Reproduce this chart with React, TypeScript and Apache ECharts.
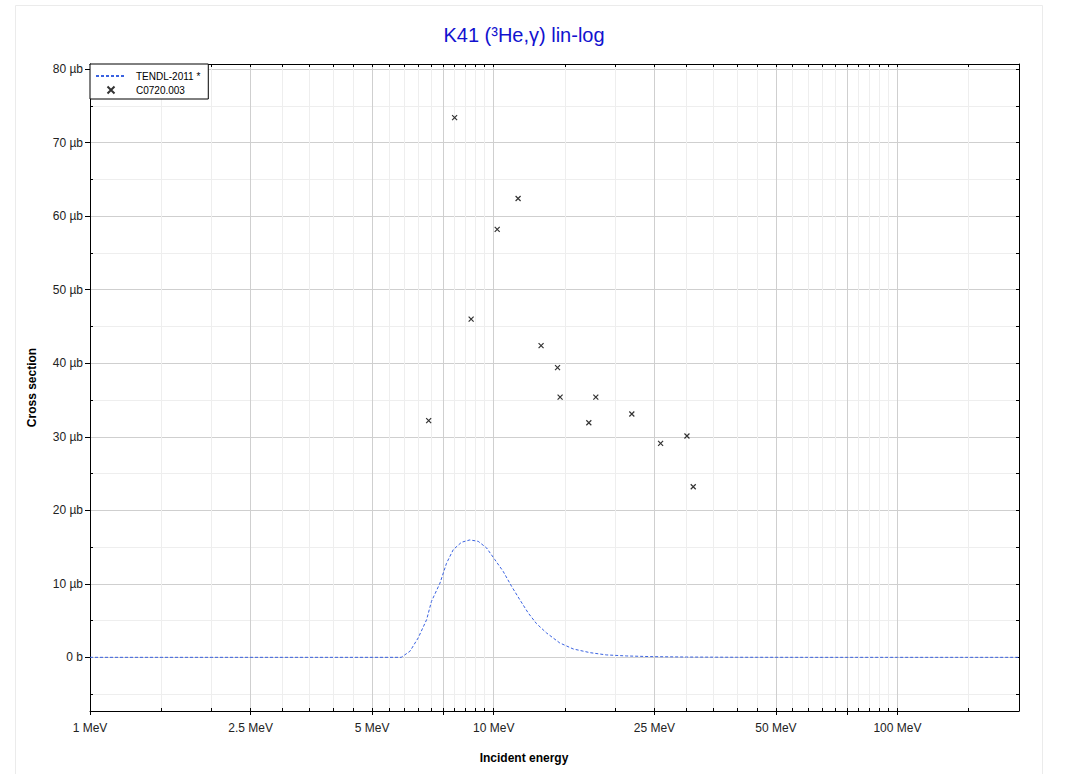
import React, { useEffect, useRef } from "react";
import * as echarts from "echarts";

// ---- Data ----
const TITLE = "K41 (³He,γ) lin-log";
const X_TITLE = "Incident energy";
const Y_TITLE = "Cross section";
const SERIES_TENDL = "TENDL-2011 *";
const SERIES_EXP = "C0720.003";

const X_MIN = 1;
const X_MAX = 200;
const Y_MIN = -7.3;
const Y_MAX = 80.7;

const xMajorTicks = [1, 2.5, 5, 7.5, 10, 25, 50, 75, 100];
const xLabelTicks = [1, 2.5, 5, 10, 25, 50, 100];
const xMinorTicks = [
  1.5, 2, 3, 3.5, 4, 4.5, 5.5, 6, 6.5, 7, 8, 8.5, 9, 9.5,
  15, 20, 30, 35, 40, 45, 55, 60, 65, 70, 80, 85, 90, 95, 150, 200,
];
const yMajorTicks = [0, 10, 20, 30, 40, 50, 60, 70, 80];
const yMinorTicks = [-5, 5, 15, 25, 35, 45, 55, 65, 75];

// TENDL-2011 evaluation (MeV, µb)
const tendlEnergy = [
  1, 5.9, 6.2, 6.5, 6.82, 7.01, 7.36, 7.64, 7.94, 8.32, 8.73, 9.15, 9.6,
  10.06, 10.55, 11.07, 11.6, 12.17, 12.76, 13.51, 14.57, 15.73, 17.3, 19.0,
  21.3, 24.3, 30, 40, 60, 100, 200,
];
const tendlSigma = [
  0, 0, 0.82, 2.64, 5.13, 7.6, 10.1, 12.8, 14.65, 15.65, 15.97, 15.78, 14.88,
  13.3, 11.7, 9.66, 7.85, 6.04, 4.59, 3.32, 1.96, 1.14, 0.64, 0.33,
  0.19, 0.1, 0.04, 0.01, 0, 0, 0,
];

// EXFOR C0720.003 (MeV, µb)
const expEnergy = [6.9, 8.0, 8.79, 10.2, 11.49, 13.1, 14.39, 14.6, 17.2, 17.9, 21.98, 25.9, 30.1, 31.2];
const expSigma = [32.2, 73.4, 46.0, 58.2, 62.4, 42.4, 39.4, 35.4, 31.9, 35.4, 33.1, 29.1, 30.1, 23.2];

const FONT = '"Liberation Sans", Arial, Helvetica, sans-serif';

const lg = (v: number) => Math.log10(v);
const fmtE = (v: number) => {
  const e = Math.pow(10, v);
  const r = Math.round(e * 100) / 100;
  return `${r} MeV`;
};
const fmtY = (v: number) => {
  const r = Math.round(v);
  return r === 0 ? "0 b" : `${r} µb`;
};

export default function App() {
  const ref = useRef<HTMLDivElement | null>(null);

  useEffect(() => {
    if (!ref.current) return;
    const chart = echarts.init(ref.current, undefined, { renderer: "svg" });

    const baseX = { type: "value", min: lg(X_MIN), max: lg(X_MAX), gridIndex: 0 };
    const baseY = { type: "value", min: Y_MIN, max: Y_MAX, gridIndex: 0 };
    const allX = [...xMajorTicks, ...xMinorTicks].map(lg);
    const allY = [...yMajorTicks, ...yMinorTicks];

    const option: any = {
      animation: false,
      textStyle: { fontFamily: FONT },
      grid: { left: 90, right: 48, top: 64, bottom: 63, containLabel: false },
      legend: {
        orient: "vertical",
        left: 90,
        top: 64,
        selectedMode: false,
        backgroundColor: "#fff",
        borderColor: "#000",
        borderWidth: 1,
        borderRadius: 0,
        padding: [7, 8, 4, 5],
        itemGap: 4,
        itemWidth: 30,
        itemHeight: 7,
        textStyle: { fontSize: 10, lineHeight: 10, color: "#000", fontFamily: FONT, padding: [0, 0, 0, 5] },
        data: [
          { name: SERIES_TENDL, itemStyle: { opacity: 0 } },
          { name: SERIES_EXP },
        ],
      },
      xAxis: [
        {
          ...baseX,
          position: "bottom",
          axisLine: { show: true, onZero: false, lineStyle: { color: "#000", width: 1 } },
          axisTick: { show: true, inside: false, length: 4, customValues: xMajorTicks.map(lg), lineStyle: { color: "#000" } },
          axisLabel: { show: true, customValues: xLabelTicks.map(lg), formatter: fmtE, margin: 11, fontSize: 12, color: "#222", fontFamily: FONT },
          splitLine: { show: true, lineStyle: { color: "#cfcfcf", width: 1 } },
        },
        {
          ...baseX,
          position: "bottom",
          axisLine: { show: false, onZero: false },
          axisTick: { show: true, inside: true, length: 3, customValues: xMinorTicks.map(lg), lineStyle: { color: "#000" } },
          axisLabel: { show: false },
          splitLine: { show: true, lineStyle: { color: "#eeeeee", width: 1 } },
        },
        {
          ...baseX,
          position: "bottom",
          axisLine: { show: false, onZero: false },
          axisTick: { show: true, inside: true, length: 3, customValues: xMajorTicks.map(lg), lineStyle: { color: "#000" } },
          axisLabel: { show: false },
          splitLine: { show: false },
        },
        {
          ...baseX,
          position: "top",
          axisLine: { show: true, onZero: false, lineStyle: { color: "#000", width: 1 } },
          axisTick: { show: true, inside: true, length: 3, customValues: allX, lineStyle: { color: "#000" } },
          axisLabel: { show: false },
          splitLine: { show: false },
        },
      ],
      yAxis: [
        {
          ...baseY,
          position: "left",
          name: Y_TITLE,
          nameLocation: "middle",
          nameGap: 52,
          nameTextStyle: { fontWeight: "bold", fontSize: 12, color: "#000", fontFamily: FONT },
          axisLine: { show: true, onZero: false, lineStyle: { color: "#000", width: 1 } },
          axisTick: { show: true, inside: false, length: 5, customValues: yMajorTicks, lineStyle: { color: "#000" } },
          axisLabel: { show: true, customValues: yMajorTicks, formatter: fmtY, margin: 7, fontSize: 12, color: "#222", fontFamily: FONT },
          splitLine: { show: true, lineStyle: { color: "#cfcfcf", width: 1 } },
        },
        {
          ...baseY,
          position: "left",
          axisLine: { show: false, onZero: false },
          axisTick: { show: true, inside: true, length: 3, customValues: yMinorTicks, lineStyle: { color: "#000" } },
          axisLabel: { show: false },
          splitLine: { show: true, lineStyle: { color: "#eeeeee", width: 1 } },
        },
        {
          ...baseY,
          position: "right",
          axisLine: { show: true, onZero: false, lineStyle: { color: "#000", width: 1 } },
          axisTick: { show: true, inside: true, length: 3, customValues: allY, lineStyle: { color: "#000" } },
          axisLabel: { show: false },
          splitLine: { show: false },
        },
      ],
      graphic: [
        {
          type: "rect",
          silent: true,
          z: -10,
          shape: { x: 15.5, y: 5.5, width: 1027, height: 800 },
          style: { fill: "none", stroke: "#ebebeb", lineWidth: 1 },
        },
        {
          type: "text",
          x: 524,
          y: 35,
          style: {
            text: TITLE,
            fill: "#1212cf",
            fontSize: 20,
            fontFamily: FONT,
            align: "center",
            verticalAlign: "middle",
          },
        },
        {
          type: "text",
          x: 524,
          y: 758,
          style: {
            text: X_TITLE,
            fill: "#000",
            fontSize: 12,
            fontWeight: "bold",
            fontFamily: FONT,
            align: "center",
            verticalAlign: "middle",
          },
        },
      ],
      series: [
        {
          name: SERIES_TENDL,
          type: "line",
          xAxisIndex: 0,
          yAxisIndex: 0,
          showSymbol: false,
          symbol: "none",
          smooth: false,
          z: 3,
          lineStyle: { color: "#3a62e0", width: 1, type: [3, 2] },
          itemStyle: { color: "#3a62e0" },
          data: tendlEnergy.map((e, i) => [lg(e), tendlSigma[i]]),
        },
        {
          name: SERIES_EXP,
          type: "scatter",
          xAxisIndex: 0,
          yAxisIndex: 0,
          symbol: "path://M0,0L10,10M10,0L0,10",
          symbolKeepAspect: true,
          symbolSize: 5,
          z: 4,
          itemStyle: { color: "rgba(0,0,0,0)", borderColor: "#000", borderWidth: 1.2 },
          data: expEnergy.map((e, i) => [lg(e), expSigma[i]]),
        },
      ],
    };

    chart.setOption(option);
    return () => {
      chart.dispose();
    };
  }, []);

  return (
    <div
      ref={ref}
      style={{ position: "fixed", left: 0, top: 0, width: 1067, height: 774, background: "#fff" }}
    />
  );
}
